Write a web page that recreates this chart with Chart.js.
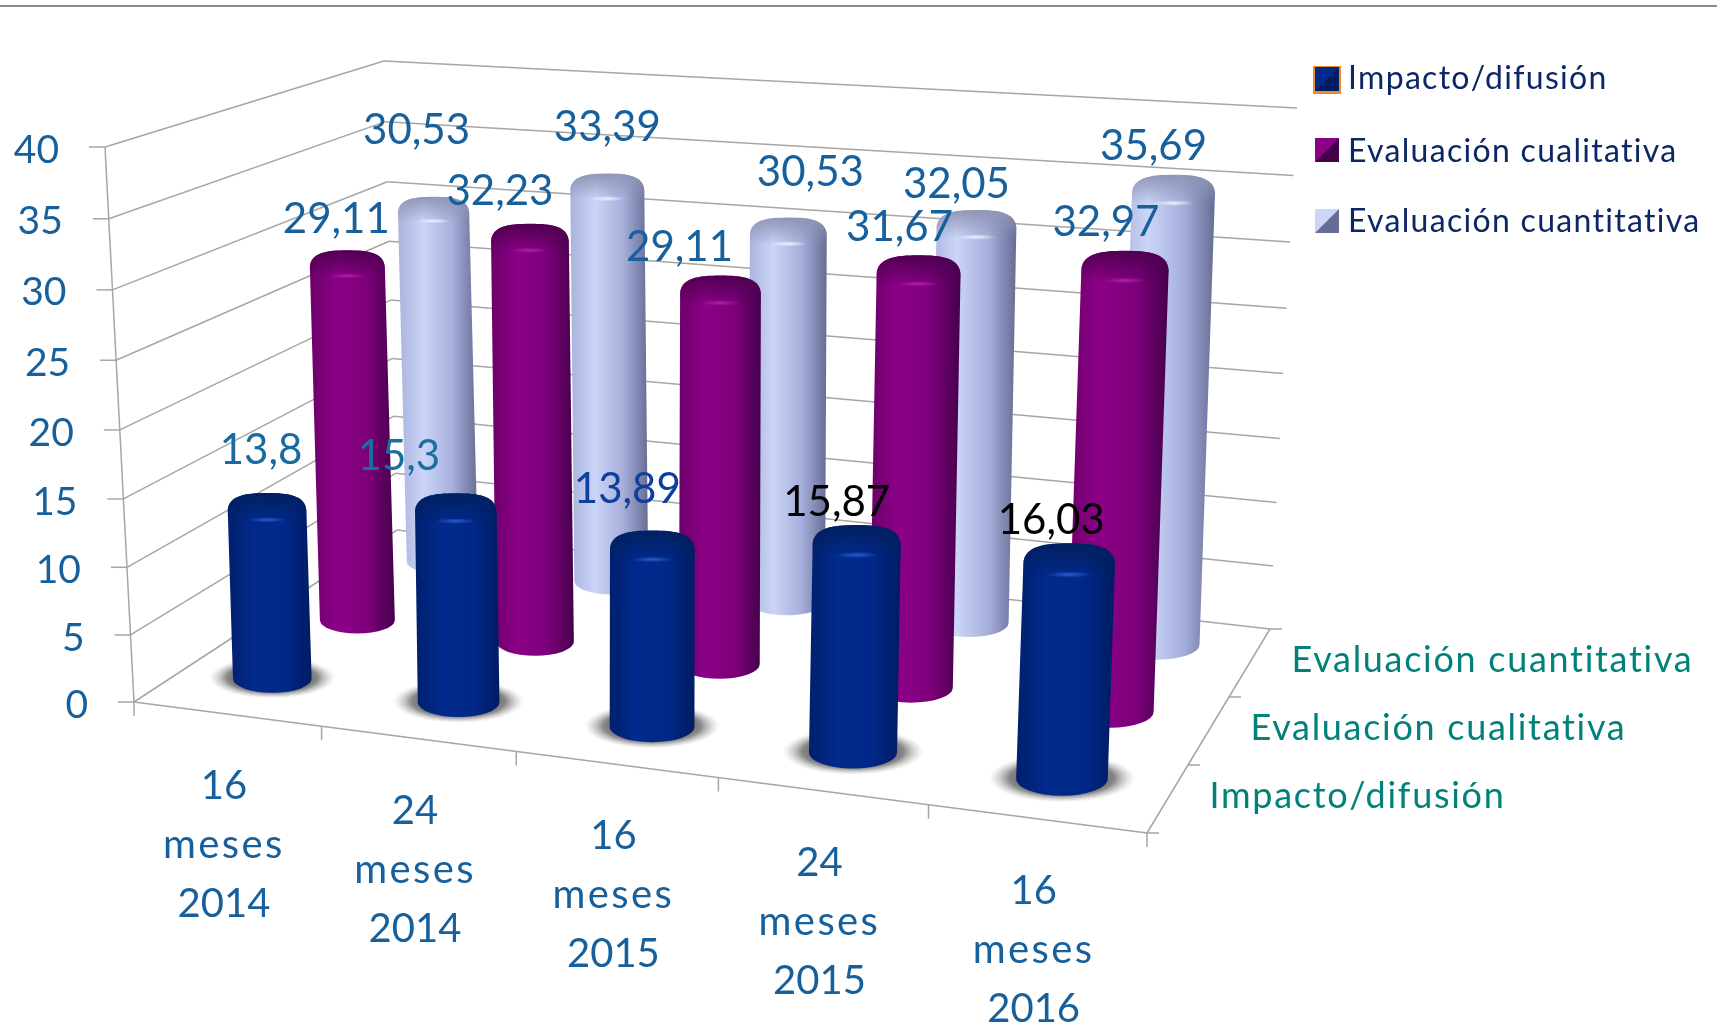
<!DOCTYPE html>
<html>
<head>
<meta charset="utf-8">
<title>Evaluación</title>
<script src="https://cdn.jsdelivr.net/npm/chart.js@4"></script>
<style>
  html, body { margin: 0; padding: 0; background: #fff; }
  canvas { display: block; }
</style>
</head>
<body>
<canvas id="chart3d" width="1717" height="1026"></canvas>
<script>
// Data
const categories = ['16 meses 2014', '24 meses 2014', '16 meses 2015', '24 meses 2015', '16 meses 2016'];
const seriesNames = ['Impacto/difusión', 'Evaluación cualitativa', 'Evaluación cuantitativa'];
const impacto = [13.8, 15.3, 13.89, 15.87, 16.03];
const cualitativa = [29.11, 32.23, 29.11, 31.67, 32.97];
const cuantitativa = [30.53, 33.39, 30.53, 32.05, 35.69];

// Fake 3D box: [front-left, front-right, back-left, back-right]
const FLOOR = [[134, 702], [1147, 833], [397, 530], [1270, 629]];
const WALL_TOP = [[105, 147], [1147, 200], [384, 61], [1297, 108]];
const BAR_FLOOR = [[137, 696], [1148, 827], [405, 523], [1277, 622]];
const BAR_TOP = [[117, 206], [1171, 274], [391, 79], [1298, 117]];
const BAR_STRETCH = [1, 1.027, 1];
const PERSP = 1.1;
const WALL_PERSP = 1.04;

// Data labels were moved by hand in the original, offset from the cylinder top
const labelOffsets = [
  [[-6, -60], [-57, -55], [-25, -60], [-20, -42], [-18, -43]],
  [[-11, -47], [-30, -49], [-41, -46], [-19, -46], [-19, -47]],
  [[-17, -82], [0, -62], [22, -62], [-20, -43], [-20, -47]]
];
const labelColors = [
  ['#1a6aa0', '#1a6f9f', '#0d3f9e', '#000000', '#000000'],
  ['#17609c', '#17609c', '#17609c', '#17609c', '#17609c'],
  ['#17609c', '#17609c', '#17609c', '#17609c', '#17609c']
];

const looks = [
  { stops: ['#00206e', '#002a8c', '#002888', '#001c62'], capTop: '#02205f', shine: '#2a5cd0' },
  { stops: ['#6b0068', '#8c0088', '#7c007a', '#45004c'], capTop: '#4f0052', shine: '#b020a8' },
  { stops: ['#a9b2dc', '#cbd5f7', '#a6aedb', '#666d94'], capTop: '#8f95b5', shine: '#eef1fd' }
];

const FONT = 'Lato, Carlito, sans-serif';

function warp(u) { return u / (u + (1 - u) * PERSP); }

function bilinear(c, u, z) {
  const m = warp(u);
  const x = (c[0][0] * (1 - m) + c[1][0] * m) * (1 - z) + (c[2][0] * (1 - m) + c[3][0] * m) * z;
  const y = (c[0][1] * (1 - m) + c[1][1] * m) * (1 - z) + (c[2][1] * (1 - m) + c[3][1] * m) * z;
  return [x, y];
}

function project(floor, top, u, z, v) {
  const b = bilinear(floor, u, z);
  const t = bilinear(top, u, z);
  return [b[0] + (t[0] - b[0]) * v, b[1] + (t[1] - b[1]) * v];
}

function wallPoint(u, z, v) {
  return project(FLOOR, WALL_TOP, u, z, v / (v + (1 - v) * WALL_PERSP));
}

function line(ctx, a, b) {
  ctx.beginPath();
  ctx.moveTo(a[0], a[1]);
  ctx.lineTo(b[0], b[1]);
  ctx.stroke();
}

function drawBox(chart) {
  const ctx = chart.ctx;
  const yScale = chart.scales.y;
  const area = chart.chartArea;
  ctx.strokeStyle = '#a6a6a6';
  ctx.lineWidth = 1.5;
  yScale.ticks.forEach(function(t) {
    const v = (area.bottom - yScale.getPixelForValue(t.value)) / area.height;
    const a = wallPoint(0, 0, v);
    const b = wallPoint(0, 1, v);
    const c = wallPoint(1, 1, v);
    line(ctx, a, b);
    line(ctx, b, c);
    line(ctx, [a[0] - 16, a[1]], a);
    ctx.font = '39px ' + FONT;
    ctx.fillStyle = '#17609c';
    ctx.textAlign = 'right';
    ctx.textBaseline = 'middle';
    ctx.fillText(String(t.value), a[0] - 46, a[1] + 3);
  });
  line(ctx, wallPoint(0, 0, 0), wallPoint(0, 0, 1));

  // floor edges and their ticks
  line(ctx, FLOOR[0], FLOOR[1]);
  line(ctx, FLOOR[1], FLOOR[3]);
  for (let i = 0; i <= categories.length; i++) {
    const p = wallPoint(i / categories.length, 0, 0);
    line(ctx, p, [p[0], p[1] + 14]);
  }
  for (let j = 0; j <= seriesNames.length; j++) {
    const p = wallPoint(1, j / seriesNames.length, 0);
    line(ctx, p, [p[0] + 12, p[1]]);
  }
}

function drawShadow(ctx, p, w) {
  ctx.save();
  ctx.translate(p[0], p[1] - 1);
  ctx.scale(1, 0.33);
  const g = ctx.createRadialGradient(0, 0, w * 0.3, 0, 0, w * 0.8);
  g.addColorStop(0, 'rgba(55,55,55,0.9)');
  g.addColorStop(0.55, 'rgba(85,85,85,0.7)');
  g.addColorStop(1, 'rgba(170,170,170,0)');
  ctx.fillStyle = g;
  ctx.beginPath();
  ctx.arc(0, 0, w * 0.8, 0, Math.PI * 2);
  ctx.fill();
  ctx.restore();
}

function drawCylinder(ctx, base, top, halfW, look) {
  const ryT = halfW * 0.44;
  const ryB = halfW * 0.36;
  const lT = top[0] - halfW, rT = top[0] + halfW;
  const lB = base[0] - halfW, rB = base[0] + halfW;
  ctx.save();
  ctx.beginPath();
  ctx.moveTo(lB, base[1]);
  ctx.lineTo(lT, top[1]);
  ctx.bezierCurveTo(lT + 1, top[1] - ryT * 0.85, lT + halfW * 0.45, top[1] - ryT, top[0], top[1] - ryT);
  ctx.bezierCurveTo(rT - halfW * 0.45, top[1] - ryT, rT - 1, top[1] - ryT * 0.85, rT, top[1]);
  ctx.lineTo(rB, base[1]);
  ctx.ellipse(base[0], base[1], halfW, ryB, 0, 0, Math.PI);
  ctx.closePath();
  const g = ctx.createLinearGradient(Math.min(lT, lB), 0, Math.max(rT, rB), 0);
  g.addColorStop(0, look.stops[0]);
  g.addColorStop(0.32, look.stops[1]);
  g.addColorStop(0.68, look.stops[2]);
  g.addColorStop(1, look.stops[3]);
  ctx.fillStyle = g;
  ctx.fill();
  ctx.clip();
  // dome shading and small highlight
  const cap = ctx.createLinearGradient(0, top[1] - ryT, 0, top[1] + ryT * 0.6);
  cap.addColorStop(0, look.capTop);
  cap.addColorStop(1, look.capTop + '00');
  ctx.fillStyle = cap;
  ctx.fillRect(lT - 5, top[1] - ryT, halfW * 2 + 10, ryT * 1.6);
  ctx.translate(top[0], top[1] + ryT * 0.55);
  ctx.scale(1, 0.14);
  const s = ctx.createRadialGradient(0, 0, 0, 0, 0, halfW * 0.5);
  s.addColorStop(0, look.shine);
  s.addColorStop(1, look.shine + '00');
  ctx.fillStyle = s;
  ctx.beginPath();
  ctx.arc(0, 0, halfW * 0.5, 0, Math.PI * 2);
  ctx.fill();
  ctx.restore();
}

function drawLegend(ctx) {
  const rows = [[67, 89], [138, 162], [209, 232]];
  ctx.font = '32px ' + FONT;
  ctx.letterSpacing = '1.3px';
  ctx.textAlign = 'left';
  ctx.textBaseline = 'alphabetic';
  seriesNames.forEach(function(name, s) {
    const y = rows[s][0], x = 1315, size = 24;
    if (s === 0) {
      ctx.fillStyle = '#f08a32';
      ctx.fillRect(x - 2, y - 1, size + 4, size + 4);
    }
    ctx.fillStyle = looks[s].stops[1];
    ctx.fillRect(x, y, size, size);
    ctx.fillStyle = looks[s].stops[3];
    ctx.beginPath();
    ctx.moveTo(x + size, y);
    ctx.lineTo(x + size, y + size);
    ctx.lineTo(x, y + size);
    ctx.lineTo(x + size / 2, y + size / 2);
    ctx.closePath();
    ctx.fill();
    ctx.fillStyle = '#0b2766';
    ctx.fillText(name, 1348, rows[s][1]);
  });
  ctx.letterSpacing = '0px';
}

const cylinders3d = {
  id: 'cylinders3d',
  beforeDatasetsDraw: function(chart) {
    const ctx = chart.ctx;
    const area = chart.chartArea;
    const xScale = chart.scales.x;
    const nSeries = chart.data.datasets.length;
    ctx.save();

    // rule across the top of the slide
    ctx.fillStyle = '#8a8a8a';
    ctx.fillRect(0, 5, 1717, 2);

    drawBox(chart);

    const bars = [];
    chart.data.datasets.forEach(function(ds, s) {
      const z = (s + 0.5) / nSeries;
      chart.getDatasetMeta(s).data.forEach(function(el, i) {
        const u = (el.x - area.left) / area.width;
        const du = el.width / 2 / area.width;
        const v = (area.bottom - el.y) / area.height * BAR_STRETCH[s];
        const base = project(BAR_FLOOR, BAR_TOP, u, z, 0);
        const top = project(BAR_FLOOR, BAR_TOP, u, z, v);
        const halfW = (bilinear(BAR_FLOOR, u + du, z)[0] - bilinear(BAR_FLOOR, u - du, z)[0]) / 2;
        bars.push({ s: s, i: i, value: ds.data[i], base: base, top: top, halfW: halfW });
      });
    });

    bars.filter(function(b) { return b.s === 0; }).forEach(function(b) {
      drawShadow(ctx, b.base, b.halfW * 2);
    });
    // back row first
    for (let s = nSeries - 1; s >= 0; s--) {
      bars.filter(function(b) { return b.s === s; }).forEach(function(b) {
        drawCylinder(ctx, b.base, b.top, b.halfW, looks[s]);
      });
    }

    // value labels
    ctx.font = '42px ' + FONT;
    ctx.textAlign = 'center';
    ctx.textBaseline = 'middle';
    bars.forEach(function(b) {
      const off = labelOffsets[b.s][b.i];
      ctx.fillStyle = labelColors[b.s][b.i];
      ctx.fillText(String(b.value).replace('.', ','), b.top[0] + off[0], b.top[1] + off[1]);
    });

    // category labels under the front edge, one word per line
    ctx.font = '40px ' + FONT;
    ctx.fillStyle = '#17609c';
    categories.forEach(function(cat, i) {
      const u = (xScale.getPixelForValue(i) - area.left) / area.width;
      const p = bilinear(FLOOR, u, 0);
      cat.split(' ').forEach(function(word, k) {
        ctx.letterSpacing = k === 1 ? '2.4px' : '0px';
        ctx.fillText(word, p[0] - 3, p[1] + 72 + k * 59);
      });
    });

    // series names along the depth axis
    ctx.font = '36px ' + FONT;
    ctx.letterSpacing = '1.7px';
    ctx.textAlign = 'left';
    ctx.textBaseline = 'alphabetic';
    ctx.fillStyle = '#00827a';
    seriesNames.forEach(function(name, s) {
      const p = bilinear(FLOOR, 1, (s + 0.5) / nSeries);
      ctx.fillText(name, p[0] + 42, p[1] + 9);
    });
    ctx.letterSpacing = '0px';

    drawLegend(ctx);
    ctx.restore();
    return false;
  }
};

new Chart(document.getElementById('chart3d'), {
  type: 'bar',
  data: {
    labels: categories,
    datasets: [
      { label: seriesNames[0], data: impacto },
      { label: seriesNames[1], data: cualitativa },
      { label: seriesNames[2], data: cuantitativa }
    ]
  },
  options: {
    responsive: false,
    animation: false,
    grouped: false,
    barPercentage: 0.43,
    categoryPercentage: 1,
    layout: { padding: 0 },
    plugins: { legend: { display: false }, tooltip: { enabled: false } },
    scales: {
      x: { display: false },
      y: { display: false, min: 0, max: 40, ticks: { stepSize: 5 } }
    }
  },
  plugins: [cylinders3d]
});
</script>
</body>
</html>
